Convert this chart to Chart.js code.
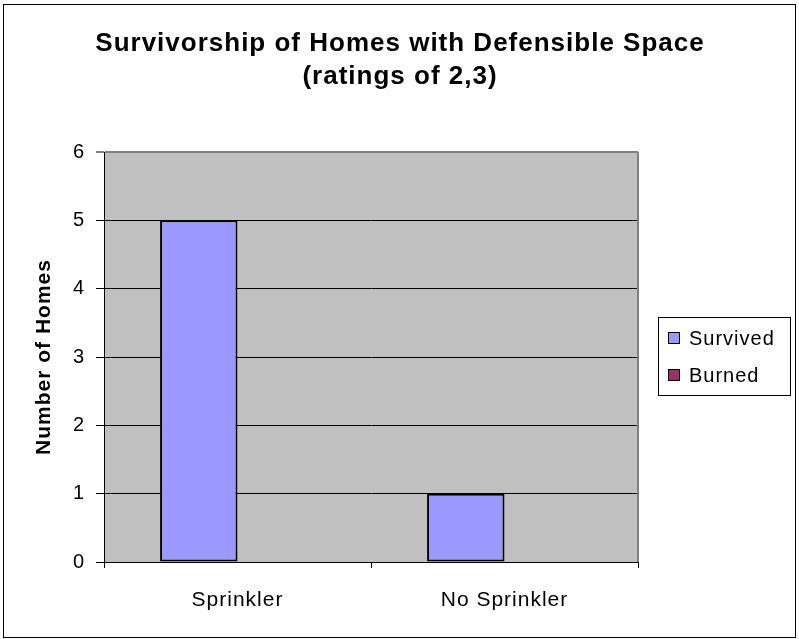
<!DOCTYPE html>
<html lang="en">
<head>
  <meta charset="UTF-8" />
  <title>Survivorship of Homes with Defensible Space</title>
  <script src="https://cdn.jsdelivr.net/npm/chart.js"></script>
  <style>
    body { margin: 0; background: #fff; }
    canvas { display: block; }
  </style>
</head>
<body>
  <canvas id="homesChart" width="799" height="639"></canvas>
  <script>
    const categories = ["Sprinkler", "No Sprinkler"];
    const survived = [5, 1];
    const burned = [0, 0];
    const seriesNames = ["Survived", "Burned"];
    const seriesColors = ["#9999ff", "#993366"];
    const titleLines = ["Survivorship of Homes with Defensible Space", "(ratings of 2,3)"];
    const yTicks = [0, 1, 2, 3, 4, 5, 6];

    const FONT = "'Liberation Sans', Arial, sans-serif";

    // Excel text runs a bit wider, so give every label some letter spacing
    function wideText(chart) {
      chart.ctx.letterSpacing = "1px";
    }

    // gray plot area, outer frame, title and legend box drawn by hand like Excel
    const excelLook = {
      id: "excelLook",
      beforeLayout: wideText,
      beforeDraw(chart) {
        wideText(chart);
        const { ctx, chartArea: a } = chart;
        ctx.save();
        ctx.fillStyle = "#fff";
        ctx.fillRect(0, 0, chart.width, chart.height);
        ctx.fillStyle = "#c0c0c0";
        ctx.fillRect(a.left, a.top, a.right - a.left, a.bottom - a.top);
        ctx.restore();
      },
      afterDraw(chart) {
        const { ctx, chartArea: a } = chart;
        ctx.save();
        // plot frame right side
        ctx.strokeStyle = "#808080";
        ctx.lineWidth = 2;
        ctx.beginPath();
        ctx.moveTo(a.right, a.top);
        ctx.lineTo(a.right, a.bottom);
        ctx.stroke();
        // outer chart border
        ctx.strokeStyle = "#000";
        ctx.lineWidth = 1;
        ctx.strokeRect(3.5, 4.5, 792, 633);
        // title, centred on the whole chart
        ctx.fillStyle = "#000";
        ctx.textAlign = "center";
        ctx.textBaseline = "alphabetic";
        ctx.font = "bold 26px " + FONT;
        titleLines.forEach((line, i) => ctx.fillText(line, 400, 51 + i * 33));
        // legend
        ctx.strokeRect(658.5, 317.5, 132, 78);
        ctx.font = "20px " + FONT;
        ctx.textBaseline = "middle";
        ctx.textAlign = "left";
        seriesNames.forEach((name, i) => {
          const cy = 338 + i * 37;
          ctx.fillStyle = seriesColors[i];
          ctx.fillRect(668, cy - 6, 12, 12);
          ctx.strokeStyle = "#000";
          ctx.strokeRect(668.5, cy - 5.5, 11, 11);
          ctx.fillStyle = "#000";
          ctx.fillText(name, 689, cy + 1);
        });
        ctx.restore();
      }
    };

    new Chart(document.getElementById("homesChart"), {
      type: "bar",
      data: {
        labels: categories,
        datasets: [
          { label: seriesNames[0], data: survived, backgroundColor: seriesColors[0], borderColor: "#000", borderWidth: 2, borderSkipped: false },
          { label: seriesNames[1], data: burned, backgroundColor: seriesColors[1], borderColor: "#000", borderWidth: 0 }
        ]
      },
      options: {
        responsive: false,
        animation: false,
        datasets: { bar: { categoryPercentage: 0.58, barPercentage: 1 } },
        layout: { padding: { left: 4, right: 161, top: 152, bottom: 0 } },
        plugins: {
          legend: { display: false },
          tooltip: { enabled: false },
          title: { display: false }
        },
        scales: {
          x: {
            afterFit(scale) { scale.height = 77; },
            grid: { offset: true, drawOnChartArea: false, color: "#000", tickLength: 6 },
            border: { color: "#000", width: 1 },
            ticks: { color: "#000", padding: 20, font: { family: FONT, size: 21 } }
          },
          y: {
            min: 0,
            max: 6,
            afterFit(scale) { scale.width = 100; },
            afterBuildTicks(scale) { scale.ticks = yTicks.map(v => ({ value: v })); },
            grid: {
              color: ctx => (ctx.tick && ctx.tick.value === 6 ? "#808080" : "#000"),
              lineWidth: ctx => (ctx.tick && ctx.tick.value === 6 ? 2 : 1),
              tickLength: 8
            },
            border: { color: "#000", width: 1 },
            ticks: { color: "#000", padding: 11, font: { family: FONT, size: 20 } },
            title: {
              display: true,
              text: "Number of Homes",
              color: "#000",
              font: { family: FONT, size: 21, weight: "bold" },
              padding: { top: 28, bottom: 0 }
            }
          }
        }
      },
      plugins: [excelLook]
    });
  </script>
</body>
</html>
